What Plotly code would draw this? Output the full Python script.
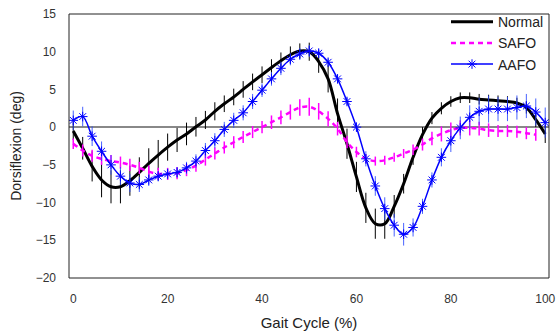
import plotly.graph_objects as go

x = list(range(0, 101, 2))

normal = [-0.5, -2.8, -5.2, -7.0, -7.9, -7.9, -7.1, -6.0, -4.8, -3.7,
          -2.65, -1.7, -0.9, 0.05, 0.95, 2.1, 3.1, 4.0, 5.0, 6.0,
          6.95, 7.9, 8.8, 9.6, 10.1, 10.0, 8.7, 6.4, 1.8, -2.2,
          -6.6, -10.7, -12.8, -12.8, -10.5, -7.5, -4.0, -1.0, 1.2, 2.5,
          3.4, 3.9, 3.9, 3.7, 3.6, 3.5, 3.4, 3.2, 2.6, 1.0, -0.9]
normal_err = [1.2, 1.5, 2.0, 2.3, 2.2, 2.2, 2.0, 2.0, 2.0, 2.0,
              1.8, 1.6, 1.5, 1.3, 1.2, 1.2, 1.1, 1.1, 1.1, 1.1,
              1.1, 1.1, 1.1, 1.1, 1.0, 1.2, 1.5, 1.8, 2.0, 2.0,
              2.0, 2.0, 2.0, 2.0, 1.5, 1.3, 1.0, 1.0, 0.8, 0.8,
              0.7, 0.7, 0.7, 0.7, 0.7, 0.7, 0.7, 0.7, 0.8, 1.0, 1.2]

x_safo = list(range(0, 99, 2))
safo = [-2.2, -3.1, -3.8, -4.2, -4.5, -4.7, -5.0, -5.4, -5.9, -6.2,
        -6.2, -6.1, -5.7, -5.1, -4.3, -3.5, -2.7, -2.0, -1.3, -0.65,
        0.0, 0.65, 1.3, 2.0, 2.6, 2.7, 2.1, 1.1, -0.2, -2.0,
        -3.3, -4.2, -4.5, -4.4, -4.0, -3.5, -3.0, -2.3, -1.5, -0.9,
        -0.4, -0.1, -0.1, -0.2, -0.4, -0.5, -0.5, -0.6, -0.8, -1.0]
safo_err = [0.7, 0.8, 0.8, 0.8, 0.8, 0.8, 0.8, 0.8, 0.8, 0.8,
            0.8, 0.8, 0.8, 0.8, 0.8, 0.8, 0.8, 0.8, 0.8, 0.8,
            0.8, 0.9, 0.9, 1.0, 1.1, 1.2, 1.1, 1.0, 0.9, 0.8,
            0.7, 0.6, 0.6, 0.6, 0.6, 0.6, 0.7, 0.8, 0.9, 1.0,
            1.0, 1.0, 1.0, 0.9, 0.9, 0.8, 0.8, 0.8, 0.8, 0.8]

aafo = [0.9, 1.4, -1.2, -3.2, -5.0, -6.5, -7.4, -7.6, -7.0, -6.5,
        -6.2, -6.0, -5.4, -4.5, -3.1, -1.8, -0.3, 0.9, 1.9, 3.4,
        4.9, 6.4, 7.8, 9.0, 9.7, 10.1, 9.8, 8.6, 6.4, 3.4,
        0.0, -4.2, -7.8, -10.8, -13.0, -14.2, -13.3, -10.5, -7.0, -4.0,
        -1.8, -0.1, 1.3, 2.1, 2.4, 2.4, 2.4, 2.6, 2.8, 2.0, 0.6]
aafo_err = [1.3, 1.3, 1.3, 1.3, 1.3, 1.2, 1.2, 1.0, 0.8, 0.7,
            0.7, 0.7, 0.8, 0.9, 1.0, 1.0, 1.0, 1.0, 1.0, 1.0,
            0.9, 0.9, 0.9, 0.8, 0.8, 0.8, 0.6, 0.5, 0.5, 0.5,
            0.5, 1.0, 1.3, 1.5, 1.5, 1.5, 1.2, 1.0, 1.0, 1.2,
            1.5, 1.5, 1.6, 1.8, 1.8, 1.6, 1.6, 1.6, 1.6, 1.8, 2.0]

x_ticks = [0, 20, 40, 60, 80, 100]
y_ticks = [-20, -15, -10, -5, 0, 5, 10, 15]

FONT = "Liberation Sans, Arial, sans-serif"

fig = go.Figure()
fig.add_trace(go.Scatter(
    x=x, y=normal, name="Normal", mode="lines",
    line=dict(color="black", width=3, shape="spline"),
    error_y=dict(type="data", array=normal_err, color="black", thickness=1, width=0),
))
fig.add_trace(go.Scatter(
    x=x_safo, y=safo, name="SAFO", mode="lines",
    line=dict(color="#FF00FF", width=2.5, dash="5px,4px", shape="spline"),
    error_y=dict(type="data", array=safo_err, color="#FF00FF", thickness=1.5, width=0),
))
fig.add_trace(go.Scatter(
    x=x, y=aafo, name="AAFO", mode="lines+markers",
    line=dict(color="#0000FF", width=1.5, shape="spline"),
    marker=dict(symbol="asterisk-open", size=8, color="#0000FF",
                line=dict(color="#3050FF", width=1)),
    error_y=dict(type="data", array=aafo_err, color="rgba(40,70,255,0.85)", thickness=1, width=0),
))

fig.add_shape(type="rect", xref="paper", yref="paper", x0=0, y0=0, x1=1, y1=1,
              line=dict(color="#222", width=1), fillcolor="rgba(0,0,0,0)", layer="above")

fig.update_layout(
    width=556, height=331,
    margin=dict(l=69, r=7, t=14, b=53, autoexpand=False),
    paper_bgcolor="white", plot_bgcolor="white",
    font=dict(family=FONT, color="black"),
    showlegend=True,
    legend=dict(x=1, xanchor="right", y=1.03, yanchor="top",
                bgcolor="rgba(0,0,0,0)", borderwidth=0,
                font=dict(size=14, family=FONT, color="#222"),
                itemwidth=42, tracegroupgap=0),
)
fig.update_xaxes(
    range=[-0.9, 100.8], tickvals=x_ticks, ticks="", showgrid=False, zeroline=False,
    showline=False, automargin=False,
    tickfont=dict(size=12, color="#333"), ticklabelstandoff=12,
    title=dict(text="Gait Cycle (%)", font=dict(size=15, color="#222"), standoff=14),
)
fig.update_yaxes(
    range=[-20, 15], tickvals=y_ticks, ticks="", showgrid=False,
    zeroline=True, zerolinecolor="#888", zerolinewidth=1.5,
    showline=False, automargin=False,
    tickfont=dict(size=12, color="#333"), ticklabelstandoff=12,
    title=dict(text="Dorsiflexion (deg)", font=dict(size=14, color="#222"), standoff=10),
)

fig.write_html("out.html", config={"displayModeBar": False},
               post_script="document.body.style.margin='0';")
